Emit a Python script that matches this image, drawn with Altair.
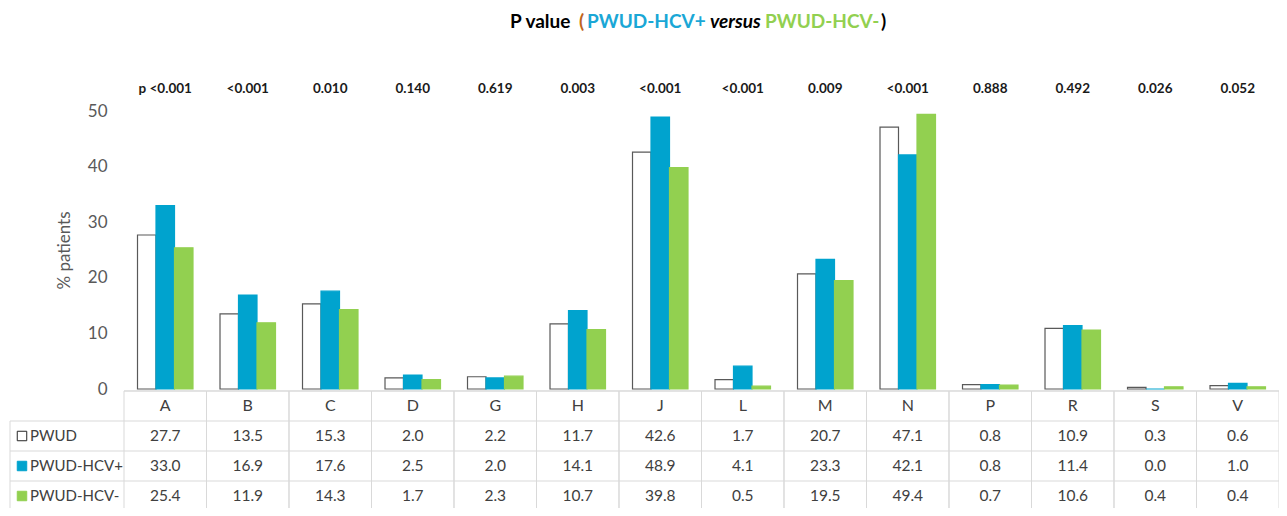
import altair as alt
import pandas as pd

cats = ["A", "B", "C", "D", "G", "H", "J", "L", "M", "N", "P", "R", "S", "V"]
groups = ["PWUD", "PWUD-HCV+", "PWUD-HCV-"]
pwud = [27.7, 13.5, 15.3, 2.0, 2.2, 11.7, 42.6, 1.7, 20.7, 47.1, 0.8, 10.9, 0.3, 0.6]
hcv_pos = [33.0, 16.9, 17.6, 2.5, 2.0, 14.1, 48.9, 4.1, 23.3, 42.1, 0.8, 11.4, 0.0, 1.0]
hcv_neg = [25.4, 11.9, 14.3, 1.7, 2.3, 10.7, 39.8, 0.5, 19.5, 49.4, 0.7, 10.6, 0.4, 0.4]
pvals = ["p <0.001", "<0.001", "0.010", "0.140", "0.619", "0.003", "<0.001",
         "<0.001", "0.009", "<0.001", "0.888", "0.492", "0.026", "0.052"]

FONT = "Lato"
BLUE = "#00A3CE"
GREEN = "#92D050"
EDGE = "#595959"
GRID = "#D9D9D9"
TXT = "#404040"

W = 1155
H = 278

rows = []
for g, vals in zip(groups, [pwud, hcv_pos, hcv_neg]):
    for c, v in zip(cats, vals):
        rows.append({"cat": c, "group": g, "value": v})
df = pd.DataFrame(rows)
cat_df = pd.DataFrame({"cat": cats, "p": pvals})
one = pd.DataFrame({"k": [0]})

xcat = alt.X("cat:N", sort=cats, scale=alt.Scale(paddingInner=0, paddingOuter=0), axis=None)

bars = alt.Chart(df).mark_bar(strokeWidth=1.2).encode(
    x=xcat,
    xOffset=alt.XOffset("group:N", sort=groups,
                        scale=alt.Scale(paddingInner=0, paddingOuter=0.73)),
    y=alt.Y("value:Q", scale=alt.Scale(domain=[0, 50], nice=False),
            axis=alt.Axis(values=[0, 10, 20, 30, 40, 50], grid=False, domain=False,
                          ticks=False, labelFontSize=17, labelColor=EDGE, labelFont=FONT,
                          labelPadding=17, title="% patients", titleFont=FONT,
                          titleFontSize=17, titleFontWeight="normal", titleColor=EDGE,
                          titlePadding=14)),
    fill=alt.Fill("group:N", sort=groups,
                  scale=alt.Scale(domain=groups, range=["#FFFFFF", BLUE, GREEN]),
                  legend=None),
    stroke=alt.Stroke("group:N", sort=groups,
                      scale=alt.Scale(domain=groups, range=[EDGE, BLUE, GREEN]),
                      legend=None),
)

# table grid
ROW_TOP = 280
ROW_H = 30
BOTTOM = 400
cells = alt.Chart(cat_df).mark_rect(fillOpacity=0, stroke=GRID, strokeWidth=1).encode(
    x=xcat, y=alt.value(ROW_TOP), y2=alt.value(BOTTOM)
)
hlines = [
    alt.Chart(one).mark_rule(color=GRID, strokeWidth=1).encode(
        x=alt.value(0), x2=alt.value(W), y=alt.value(ROW_TOP))
]
for i in range(1, 4):
    hlines.append(
        alt.Chart(one).mark_rule(color=GRID, strokeWidth=1).encode(
            x=alt.value(-114), x2=alt.value(W), y=alt.value(ROW_TOP + ROW_H * i)))
vline = alt.Chart(one).mark_rule(color=GRID, strokeWidth=1).encode(
    x=alt.value(-114), y=alt.value(ROW_TOP + ROW_H), y2=alt.value(BOTTOM))

header = alt.Chart(cat_df).mark_text(font=FONT, fontSize=16, color=TXT, baseline="middle").encode(
    x=xcat, y=alt.value(ROW_TOP + ROW_H / 2), text="cat:N")

value_rows = []
legend_items = []
sq_fill = ["#FFFFFF", BLUE, GREEN]
sq_stroke = ["#262626", BLUE, GREEN]
for i, g in enumerate(groups):
    yc = ROW_TOP + ROW_H * (i + 1) + ROW_H / 2
    value_rows.append(
        alt.Chart(df).transform_filter(alt.datum.group == g).mark_text(
            font=FONT, fontSize=15.5, color=TXT, baseline="middle").encode(
            x=xcat, y=alt.value(yc), text=alt.Text("value:Q", format=".1f")))
    legend_items.append(
        alt.Chart(pd.DataFrame({"g": [g]})).mark_square(
            size=90, fill=sq_fill[i], stroke=sq_stroke[i], strokeWidth=1, opacity=1).encode(
            x=alt.value(-102), y=alt.value(yc)))
    legend_items.append(
        alt.Chart(pd.DataFrame({"g": [g]})).mark_text(
            font=FONT, fontSize=15, color=TXT, align="left", baseline="middle").encode(
            x=alt.value(-94), y=alt.value(yc), text="g:N"))

ptext = alt.Chart(cat_df).mark_text(font=FONT, fontSize=13.5, fontWeight="bold",
                                    color="#1a1a1a", baseline="middle").encode(
    x=xcat, y=alt.value(-22), text="p:N")

title_parts = [
    ("P value", 386, "#000000", "normal"),
    ("(", 455, "#C0651A", "normal"),
    ("PWUD-HCV+", 463, "#1AA7D6", "normal"),
    ("versus", 586, "#000000", "italic"),
    ("PWUD-HCV-", 641, GREEN, "normal"),
    (")", 757, "#000000", "normal"),
]
titles = []
for t, xp, col, style in title_parts:
    titles.append(
        alt.Chart(pd.DataFrame({"t": [t]})).mark_text(
            font=FONT, fontSize=19, fontWeight="bold", fontStyle=style, color=col,
            align="left", baseline="middle").encode(
            x=alt.value(xp), y=alt.value(-89), text="t:N"))

chart = alt.layer(
    cells, *hlines, vline, bars, header, *value_rows, *legend_items, ptext, *titles
).properties(
    width=W, height=H,
    autosize=alt.AutoSizeParams(type="none"),
    padding={"left": 116, "top": 103, "right": 0, "bottom": 119},
).configure_view(stroke=None)

chart.save("out.html", embed_options={"renderer": "svg", "actions": False})
